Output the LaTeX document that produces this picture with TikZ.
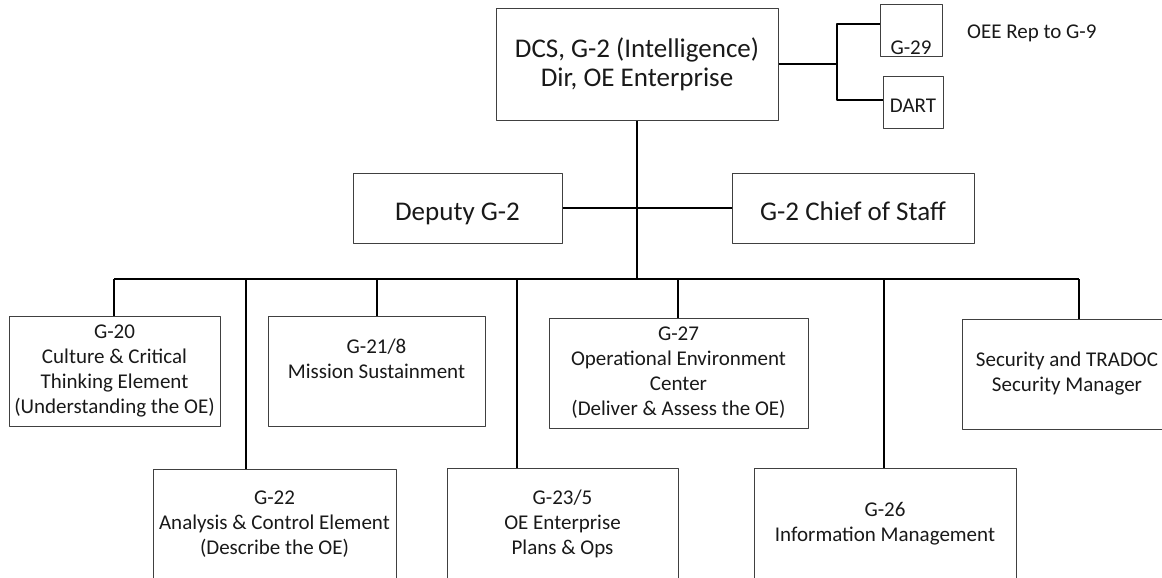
\documentclass[tikz,border=0pt]{standalone}
\usepackage{fontspec}
\setmainfont{Carlito}
\begin{document}
\begin{tikzpicture}[x=1pt,y=-1pt,line join=round,
	box/.style={draw=black!75,line width=1pt,inner sep=0pt,align=center,text=black!90,
		font=\fontsize{21}{25}\selectfont},
	bigbox/.style={box,font=\fontsize{27}{29}\selectfont},
	link/.style={line width=2pt}]
	\def\busy{279}
	\useasboundingbox (0,0) rectangle (1162,578);
	\clip (0,0) rectangle (1162,578);
	% head and staff
	\node[bigbox,minimum width=282pt,minimum height=111pt] (dcs) at (637,64.5) {DCS, G-2 (Intelligence)\\Dir, OE Enterprise};
	\node[box,minimum width=62pt,text height=50pt,text depth=2pt] (g29) at (911,31) {G-29};
	\node[box,minimum width=60pt,text height=35pt,text depth=16pt] (dart) at (913,102.5) {DART};
	\node[anchor=base west,inner sep=0pt,text=black!90,font=\fontsize{21}{25}\selectfont] (rep) at (967,38.5) {OEE Rep to G-9};
	\node[bigbox,minimum width=209pt,text height=47pt,text depth=23pt] (dep) at (457.5,208) {Deputy G-2};
	\node[bigbox,minimum width=242pt,text height=47pt,text depth=23pt] (cos) at (853,208) {G-2 Chief of Staff};
	% directorates
	\node[box,minimum width=211pt,minimum height=110pt] (g20) at (114.5,371) {G-20\\Culture \& Critical\\Thinking Element\\(Understanding the OE)};
	\node[box,minimum width=217pt,minimum height=110pt] (g218) at (376.5,371) {G-21/8\\Mission Sustainment\\\mbox{}};
	\node[box,minimum width=259pt,minimum height=110pt] (g27) at (678.5,373) {G-27\\Operational Environment\\Center\\(Deliver \& Assess the OE)};
	\node[box,minimum width=210pt,minimum height=110pt] (sec) at (1067,374) {Security and TRADOC\\Security Manager};
	\node[box,minimum width=243pt,minimum height=111pt] (g22) at (274.5,524.5) {G-22\\Analysis \& Control Element\\(Describe the OE)};
	\node[box,minimum width=231pt,minimum height=112pt] (g235) at (562.5,524) {G-23/5\\OE Enterprise\\Plans \& Ops};
	\node[box,minimum width=262pt,minimum height=112pt] (g26) at (885,524) {G-26\\Information Management};
	% connectors
	\coordinate (forkt) at (837,24);
	\coordinate (forkb) at (837,100);
	\draw[link] (dcs.east) -- (dcs.east -| forkt);
	\draw[link] (g29.west |- forkt) -- (forkt) -- (forkb) -- (dart.west |- forkb);
	\coordinate (busl) at (114,\busy);
	\coordinate (busr) at (1079,\busy);
	\draw[line width=2.5pt] (dcs.south) -- (dcs.south |- busl);
	\draw[link] (dep.east) -- (cos.west);
	\draw[link] (busl) -- (busr);
	\foreach \n/\x in {g20/114,g22/245.5,g218/376.5,g235/517,g27/677.5,g26/884,sec/1079}{
		\coordinate (d\n) at (\x,\busy);
		\draw[link] (d\n) -- (d\n |- \n.north);
	}
\end{tikzpicture}
\end{document}
